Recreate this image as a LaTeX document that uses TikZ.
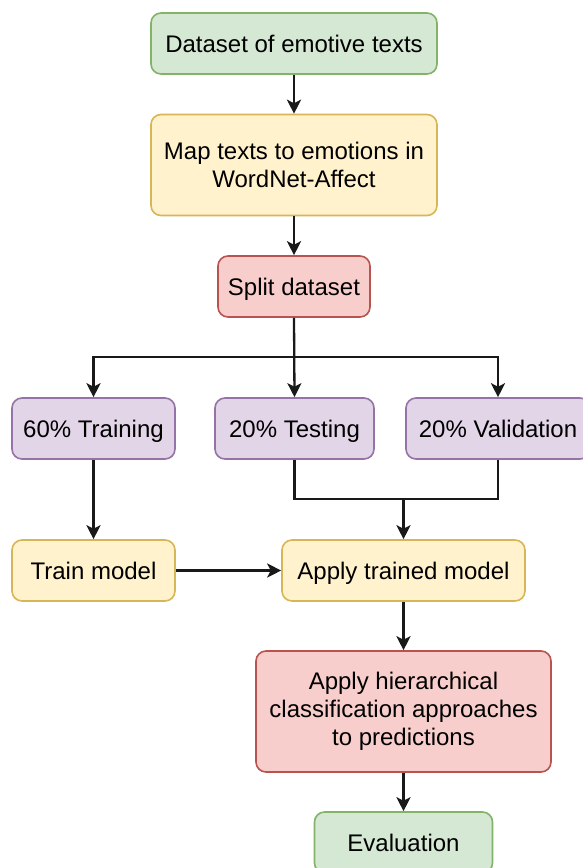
\documentclass[tikz,border=0pt]{standalone}
\usepackage{fontspec}
\setmainfont{Liberation Sans}
\usetikzlibrary{arrows.meta}
\definecolor{gfill}{HTML}{D5E8D4}\definecolor{gdraw}{HTML}{82B366}
\definecolor{yfill}{HTML}{FFF2CC}\definecolor{ydraw}{HTML}{D6B656}
\definecolor{rfill}{HTML}{F8CECC}\definecolor{rdraw}{HTML}{B85450}
\definecolor{pfill}{HTML}{E1D5E7}\definecolor{pdraw}{HTML}{9673A6}
\begin{document}
\begin{tikzpicture}[x=1pt,y=-1pt,
  box/.style={rectangle, rounded corners=10pt, line width=1.6pt, align=center,
    inner sep=0pt, font=\fontsize{24}{28}\selectfont, text=black},
  one/.style={text height=17pt, text depth=0pt},
  gbox/.style={box, fill=gfill, draw=gdraw},
  ybox/.style={box, fill=yfill, draw=ydraw},
  rbox/.style={box, fill=rfill, draw=rdraw},
  pbox/.style={box, fill=pfill, draw=pdraw},
  conn/.style={line width=2.3pt, draw=black!90},
  arr/.style={conn, -{Stealth[length=14pt,width=14pt,inset=3.5pt]}}]
\useasboundingbox (0,0) rectangle (583,868);
\begin{scope}
\clip (0,0) rectangle (583,868);
\node[gbox, one, minimum width=286pt, minimum height=61pt] (ds) at (294,43.5) {Dataset of emotive texts};
\node[ybox, minimum width=286pt, minimum height=101pt] (map) at (294,165) {Map texts to emotions in\\WordNet-Affect};
\node[rbox, one, minimum width=152pt, minimum height=61pt] (split) at (294,286.5) {Split dataset};
\node[pbox, one, minimum width=163pt, minimum height=61pt] (tr) at (93.5,428.5) {60\% Training};
\node[pbox, one, minimum width=159pt, minimum height=61pt] (te) at (294.5,428.5) {20\% Testing};
\node[pbox, one, minimum width=184pt, minimum height=61pt] (va) at (498,428.5) {20\% Validation};
\node[ybox, one, minimum width=163pt, minimum height=61pt] (tm) at (93.5,570.5) {Train model};
\node[ybox, one, minimum width=243pt, minimum height=61pt] (ap) at (403.5,570.5) {Apply trained model};
\node[rbox, minimum width=295pt, minimum height=121pt] (hi) at (403.5,711.5) {Apply hierarchical\\classification approaches\\to predictions};
\node[gbox, one, minimum width=178pt, minimum height=61pt] (ev) at (403.5,842.5) {Evaluation};
\coordinate (br) at (294,357);
\coordinate (mg) at (403.5,499);
\draw[arr] (ds) -- (map);
\draw[arr] (map) -- (split);
\draw[arr] (split.south) -- (te.north);
\draw[arr] (br) -| (tr.north);
\draw[arr] (br) -| (va.north);
\draw[arr] (tr) -- (tm);
\draw[conn] (te.south) |- (mg) -| (va.south);
\draw[arr] (mg) -- (ap.north);
\draw[arr] (tm) -- (ap);
\draw[arr] (ap) -- (hi);
\draw[arr] (hi) -- (ev);
\end{scope}
\end{tikzpicture}
\end{document}
